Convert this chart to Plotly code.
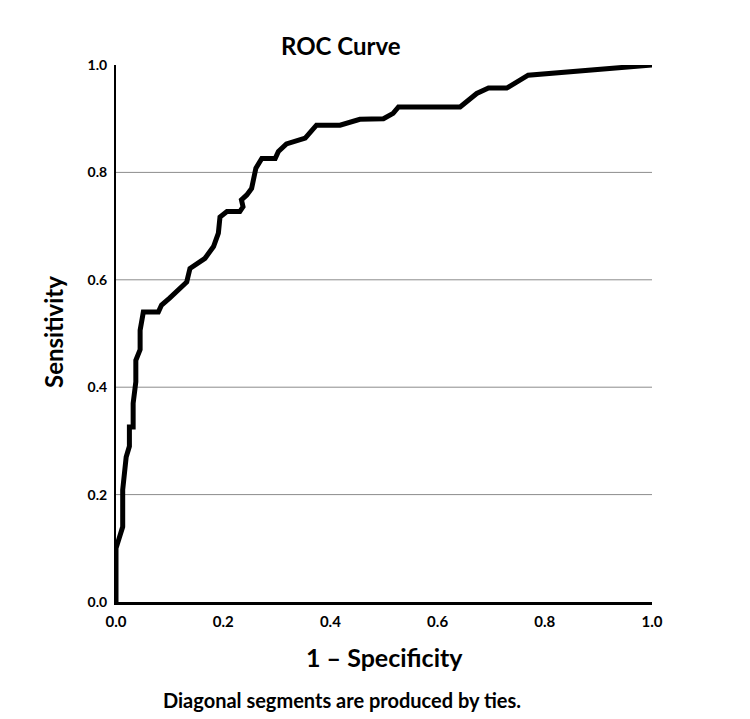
import plotly.graph_objects as go

fpr = [0.0, 0.0, 0.0125, 0.0125, 0.019, 0.025, 0.025, 0.032, 0.032, 0.037, 0.037, 0.045, 0.045,
       0.051, 0.079, 0.085, 0.10, 0.119, 0.132, 0.138, 0.166, 0.182, 0.191, 0.194, 0.207, 0.231,
       0.237, 0.234, 0.244, 0.253, 0.257, 0.261, 0.272, 0.297, 0.303, 0.318, 0.353, 0.374, 0.418,
       0.455, 0.499, 0.517, 0.527, 0.642, 0.673, 0.695, 0.729, 0.769, 1.0]
tpr = [0.0, 0.10, 0.14, 0.209, 0.27, 0.29, 0.326, 0.326, 0.37, 0.41, 0.45, 0.47, 0.506,
       0.54, 0.54, 0.553, 0.566, 0.584, 0.596, 0.621, 0.64, 0.662, 0.687, 0.717, 0.727, 0.727,
       0.736, 0.749, 0.758, 0.770, 0.786, 0.808, 0.826, 0.826, 0.839, 0.853, 0.864, 0.888, 0.888,
       0.899, 0.90, 0.91, 0.922, 0.922, 0.947, 0.957, 0.957, 0.981, 1.0]
tick_vals = [0.0, 0.2, 0.4, 0.6, 0.8, 1.0]
tick_text = ["0.0", "0.2", "0.4", "0.6", "0.8", "1.0"]
grid_vals = [0.2, 0.4, 0.6, 0.8]

FONT = "Lato"
W, H = 750, 719
L, R, T, B = 116, 98, 65, 117
PW, PH = W - L - R, H - T - B


def px(xp):
    return (xp - L) / PW


def py(yp):
    return (H - B - yp) / PH


fig = go.Figure()
fig.add_trace(go.Scatter(x=fpr, y=tpr, mode="lines",
                         line=dict(color="black", width=5), hoverinfo="skip",
                         showlegend=False, cliponaxis=False))

shapes = [dict(type="line", xref="paper", yref="y", x0=0, x1=1, y0=g, y1=g,
               line=dict(color="#8c8c8c", width=1), layer="below") for g in grid_vals]

annotations = [
    dict(text="<b>ROC Curve</b>", x=px(341), y=py(46), xanchor="center", yanchor="middle",
         font=dict(family=FONT, size=24, color="black")),
    dict(text="<b>1 \u2013 Specificity</b>", x=px(384), y=py(657), xanchor="center", yanchor="middle",
         font=dict(family=FONT, size=25, color="black")),
    dict(text="<b>Sensitivity</b>", x=px(53), y=py(332), xanchor="center", yanchor="middle",
         textangle=-90, font=dict(family=FONT, size=24, color="black")),
    dict(text="<b>Diagonal segments are produced by ties.</b>", x=px(342), y=py(700),
         xanchor="center", yanchor="middle", font=dict(family=FONT, size=20, color="black")),
]
for a in annotations:
    a.update(xref="paper", yref="paper", showarrow=False)

fig.update_layout(
    width=W, height=H,
    margin=dict(l=L, r=R, t=T, b=B),
    paper_bgcolor="white", plot_bgcolor="white",
    font=dict(family=FONT, color="black"),
    shapes=shapes,
    annotations=annotations,
    xaxis=dict(range=[0, 1], tickvals=tick_vals, ticktext=["<b>%s</b>" % t for t in tick_text],
               showgrid=False, zeroline=False, showline=True, linecolor="black", linewidth=3,
               ticks="", ticklabelstandoff=4, tickfont=dict(family=FONT, size=15, color="black")),
    yaxis=dict(range=[0, 1], tickvals=tick_vals, ticktext=["<b>%s</b>" % t for t in tick_text],
               showgrid=False, zeroline=False, showline=True, linecolor="black", linewidth=2,
               ticks="", ticklabelstandoff=4, tickfont=dict(family=FONT, size=14, color="black")),
)

fig.write_html("out.html")
